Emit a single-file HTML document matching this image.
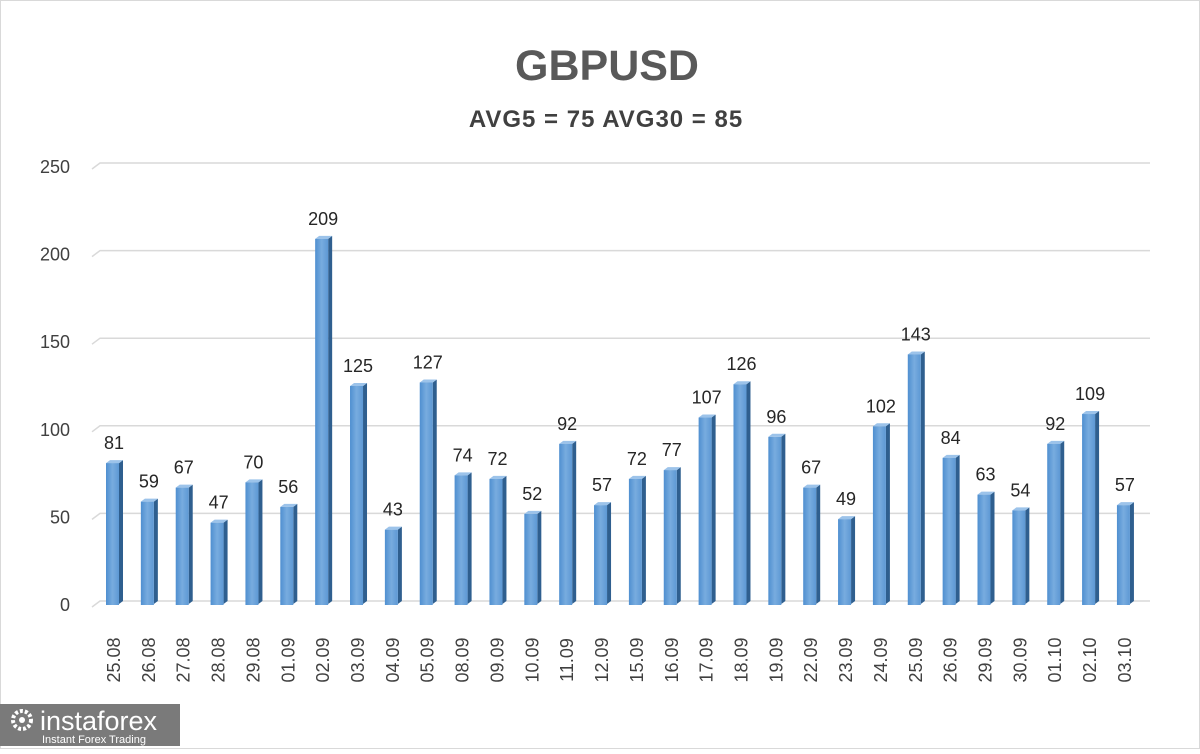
<!DOCTYPE html>
<html><head><meta charset="utf-8"><style>
body{margin:0;background:#fff}
svg text{font-family:"Liberation Sans",sans-serif}
</style></head><body>
<svg width="1200" height="749" viewBox="0 0 1200 749" xmlns="http://www.w3.org/2000/svg">
<defs>
<linearGradient id="g" x1="0" x2="1" y1="0" y2="0">
<stop offset="0" stop-color="#4f8fd0"/><stop offset="0.5" stop-color="#78acdf"/><stop offset="1" stop-color="#5d98d4"/>
</linearGradient>
</defs>
<rect x="0.5" y="0.5" width="1199" height="748" fill="#fff" stroke="#d9d9d9"/>
<text x="607" y="80" font-size="43" font-weight="bold" fill="#595959" text-anchor="middle">GBPUSD</text>
<text x="606" y="127" font-size="24" font-weight="bold" fill="#404040" text-anchor="middle" letter-spacing="1">AVG5 = 75 AVG30 = 85</text>
<g id="grid" stroke="#d9d9d9" stroke-width="1.5" fill="none"></g>
<g id="ylab" font-size="18" fill="#404040" text-anchor="end"></g>
<g id="bars"></g>
<g id="xlab" font-size="18" fill="#404040"></g>
<rect x="0" y="704" width="180" height="42" fill="#7a7a7a"/>
<circle cx="22" cy="720" r="9" fill="none" stroke="#fff" stroke-width="4" stroke-dasharray="3 2"/>
<circle cx="22" cy="720" r="3" fill="#fff"/>
<text x="40" y="730" font-size="27" fill="#fff">instaforex</text>
<text x="42" y="743" font-size="11" fill="#fff">Instant Forex Trading</text>
</svg>
<script>
const vals=[81,59,67,47,70,56,209,125,43,127,74,72,52,92,57,72,77,107,126,96,67,49,102,143,84,63,54,92,109,57];
const labs=["25.08","26.08","27.08","28.08","29.08","01.09","02.09","03.09","04.09","05.09","08.09","09.09","10.09","11.09","12.09","15.09","16.09","17.09","18.09","19.09","22.09","23.09","24.09","25.09","26.09","29.09","30.09","01.10","02.10","03.10"];
const NS="http://www.w3.org/2000/svg";
function el(p,t,a,txt){const e=document.createElementNS(NS,t);for(const k in a)e.setAttribute(k,a[k]);if(txt!==undefined)e.textContent=txt;document.getElementById(p).appendChild(e);}
const y0=605,k=1.752;
for(let v=0;v<=250;v+=50){const y=y0-v*k;
el("grid","polyline",{points:`92,${y+2} 100,${y-4} 1150,${y-4}`});
el("ylab","text",{x:70,y:y+6},String(v));}
vals.forEach((v,i)=>{const cx=114+i*34.86,x=cx-8,w=13,top=y0-v*k;
el("bars","path",{d:`M${x+w},${top} l4,-3 v${y0-top-1} l-4,3z`,fill:"#2f5f8f"});
el("bars","path",{d:`M${x},${top} l4,-3 h${w} l-4,3z`,fill:"#9cc3ea"});
el("bars","rect",{x:x,y:top,width:w,height:y0-top,fill:"url(#g)"});
el("bars","text",{x:cx,y:top-14,"font-size":18,fill:"#262626","text-anchor":"middle"},String(v));
el("xlab","text",{x:0,y:0,transform:`translate(${cx+6},660) rotate(-90)`,"text-anchor":"middle"},labs[i]);
});
</script>
</body></html>
